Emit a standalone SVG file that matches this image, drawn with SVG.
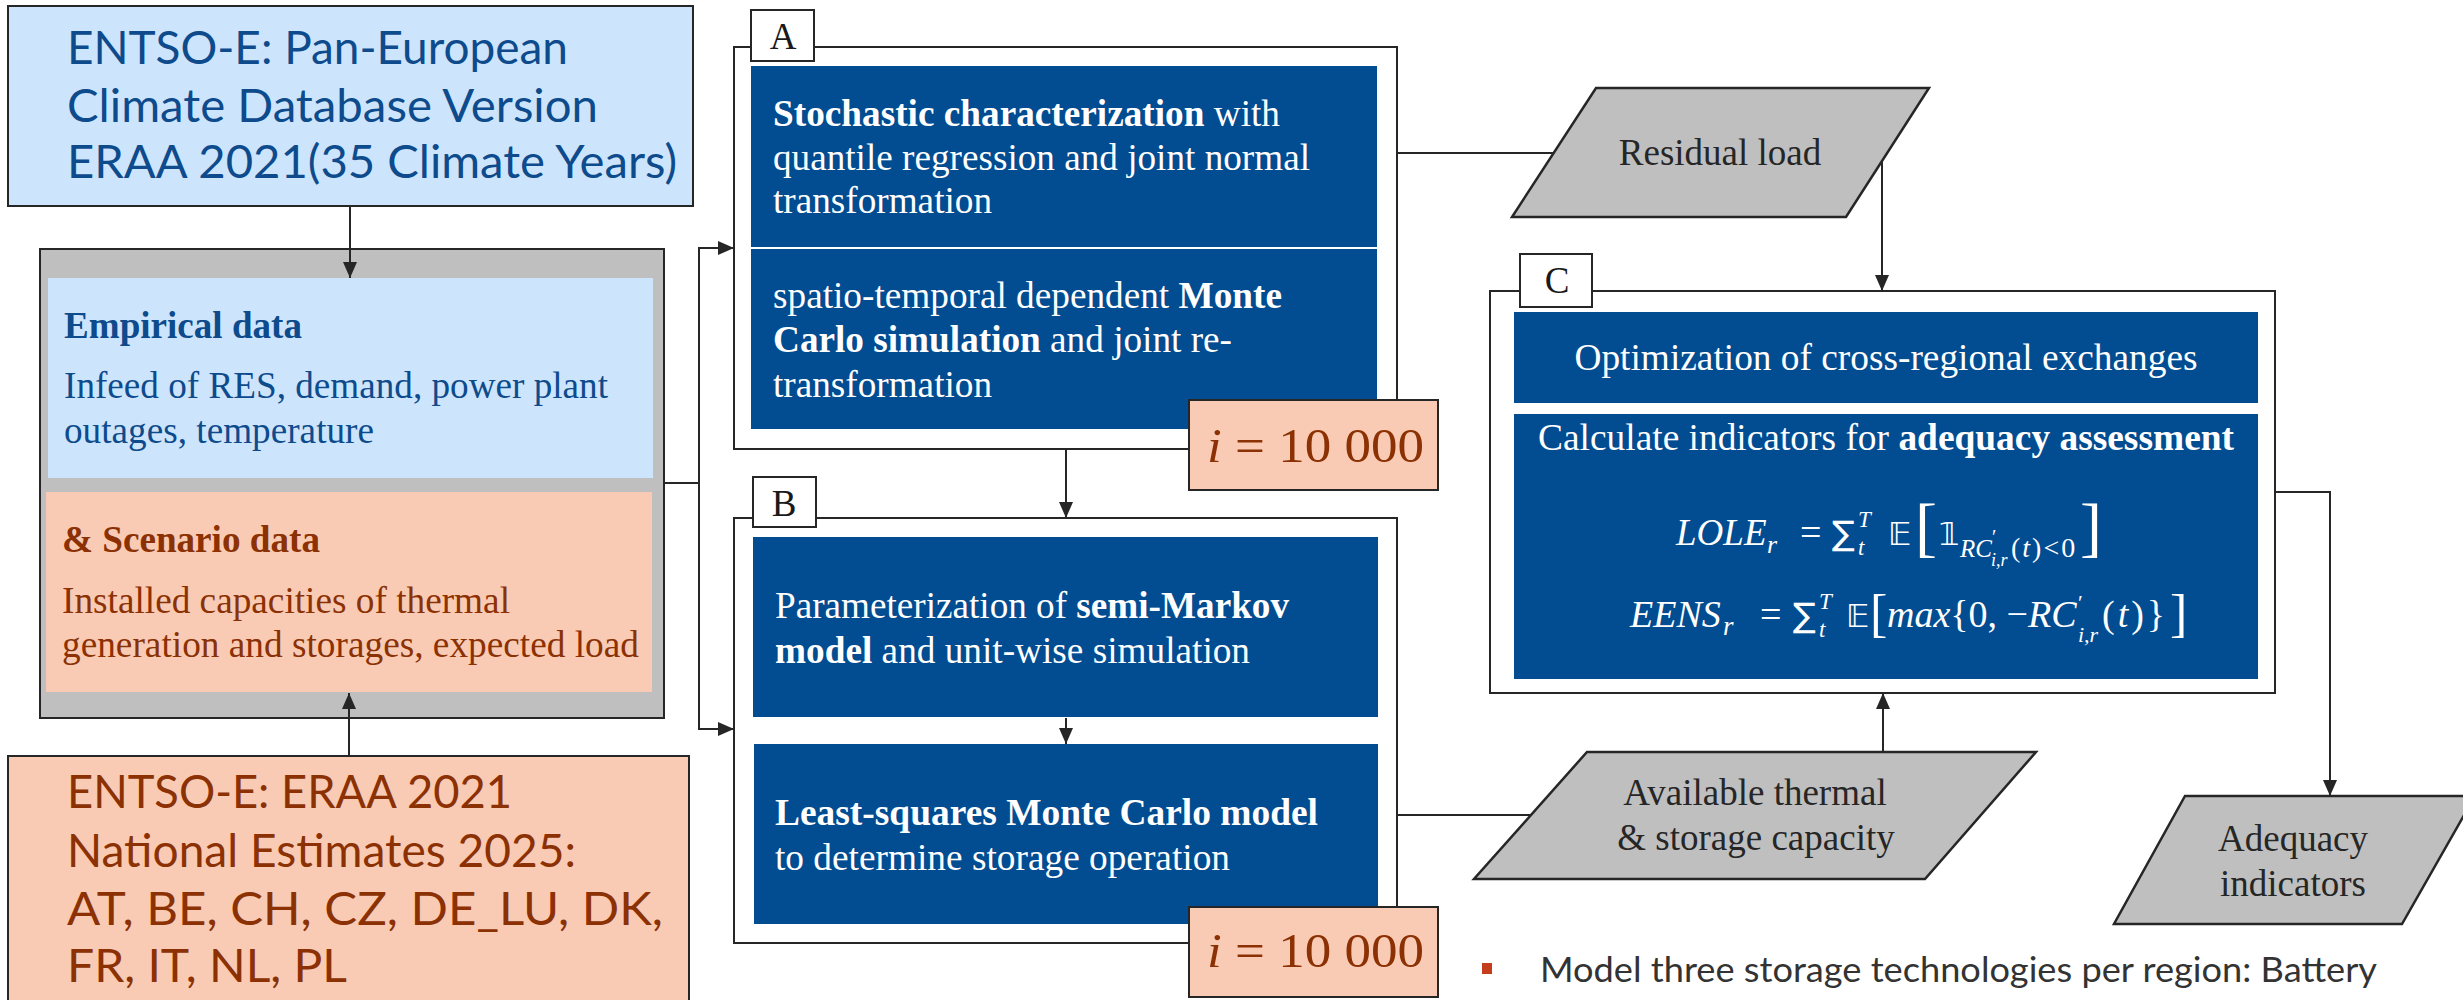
<svg xmlns="http://www.w3.org/2000/svg" width="2463" height="1000" viewBox="0 0 2463 1000">
<style>
.sans{font-family:Lato,"Open Sans","Liberation Sans",sans-serif}
.serif{font-family:"Liberation Serif","Times New Roman",serif}
.b{font-weight:bold}
.it{font-style:italic}
.frame{fill:#ffffff;stroke:#262626;stroke-width:2}
.blue{fill:#024c91}
.wt{fill:#ffffff;font-size:37px}
.lbl{fill:#ffffff;stroke:#262626;stroke-width:2}
.lbltx{fill:#1a1a1a;font-size:37px;text-anchor:middle}
.para{fill:#bfbfbf;stroke:#262626;stroke-width:2.5}
.ptx{fill:#262626;font-size:37px;text-anchor:middle}
.ibox{fill:#f9cbb5;stroke:#262626;stroke-width:2}
.itx{fill:#8b3103;font-size:49px}
.conn{fill:none;stroke:#262626;stroke-width:2}
.math{fill:#ffffff;font-family:"Liberation Serif","DejaVu Serif",serif;font-size:38px}
.ds{font-family:"DejaVu Sans","DejaVu Serif",sans-serif;font-size:32px;font-style:normal}
.sg{font-family:"DejaVu Sans",sans-serif;font-size:34px}
</style>
<defs>
<marker id="ah" markerWidth="16" markerHeight="14" refX="16" refY="7" orient="auto" markerUnits="userSpaceOnUse"><path d="M0,0 L16,7 L0,14 Z" fill="#262626"/></marker>
</defs>

<g id="climate-db">
<rect x="8" y="6" width="685" height="200" fill="#cde5fc" stroke="#262626" stroke-width="2"/>
<g class="sans" fill="#0d4b8d" font-size="47">
<text x="67" y="64" textLength="501" lengthAdjust="spacingAndGlyphs">ENTSO-E: Pan-European</text>
<text x="67" y="122" textLength="531" lengthAdjust="spacingAndGlyphs">Climate Database Version</text>
<text x="67" y="178" textLength="610" lengthAdjust="spacingAndGlyphs">ERAA 2021(35 Climate Years)</text>
</g>
</g>

<g id="input-data">
<rect x="40" y="249" width="624" height="469" fill="#bfbfbf" stroke="#262626" stroke-width="2"/>
<rect x="48" y="278" width="605" height="200" fill="#cde5fc"/>
<rect x="46" y="492" width="606" height="200" fill="#f9cbb5"/>
<g class="serif" font-size="37" fill="#0d4b8d">
<text x="64" y="338" class="b" textLength="238" lengthAdjust="spacingAndGlyphs">Empirical data</text>
<text x="64" y="398" textLength="544" lengthAdjust="spacingAndGlyphs">Infeed of RES, demand, power plant</text>
<text x="64" y="443" textLength="310" lengthAdjust="spacingAndGlyphs">outages, temperature</text>
</g>
<g class="serif" font-size="37" fill="#8b3103">
<text x="62" y="552" class="b" textLength="258" lengthAdjust="spacingAndGlyphs">&amp; Scenario data</text>
<text x="62" y="613" textLength="448" lengthAdjust="spacingAndGlyphs">Installed capacities of thermal</text>
<text x="62" y="657" textLength="577" lengthAdjust="spacingAndGlyphs">generation and storages, expected load</text>
</g>
</g>

<g id="national-estimates">
<rect x="8" y="756" width="681" height="260" fill="#f9cbb5" stroke="#262626" stroke-width="2"/>
<g class="sans" fill="#8b3103" font-size="46">
<text x="67" y="808" textLength="445" lengthAdjust="spacingAndGlyphs">ENTSO-E: ERAA 2021</text>
<text x="67" y="867" textLength="509" lengthAdjust="spacingAndGlyphs">National Estimates 2025:</text>
<text x="67" y="925" textLength="596" lengthAdjust="spacingAndGlyphs">AT, BE, CH, CZ, DE_LU, DK,</text>
<text x="67" y="982" textLength="280" lengthAdjust="spacingAndGlyphs">FR, IT, NL, PL</text>
</g>
</g>

<g id="block-A">
<rect class="frame" x="734" y="47" width="663" height="402"/>
<rect class="lbl" x="751" y="10" width="63" height="51"/>
<text class="serif lbltx" x="783" y="49">A</text>
<rect class="blue" x="751" y="66" width="626" height="181"/>
<rect class="blue" x="751" y="249" width="626" height="180"/>
<g class="serif wt">
<text x="773" y="126" textLength="507" lengthAdjust="spacingAndGlyphs"><tspan class="b">Stochastic characterization</tspan> with</text>
<text x="773" y="170" textLength="537" lengthAdjust="spacingAndGlyphs">quantile regression and joint normal</text>
<text x="773" y="213" textLength="219" lengthAdjust="spacingAndGlyphs">transformation</text>
<text x="773" y="308" textLength="509" lengthAdjust="spacingAndGlyphs">spatio-temporal dependent <tspan class="b">Monte</tspan></text>
<text x="773" y="352" textLength="459" lengthAdjust="spacingAndGlyphs"><tspan class="b">Carlo simulation</tspan> and joint re-</text>
<text x="773" y="397" textLength="219" lengthAdjust="spacingAndGlyphs">transformation</text>
</g>
<rect class="ibox" x="1189" y="400" width="249" height="90"/>
<text class="serif itx" x="1207" y="462" textLength="217" lengthAdjust="spacingAndGlyphs"><tspan class="it">i</tspan> = 10 000</text>
</g>

<g id="block-B">
<rect class="frame" x="734" y="518" width="663" height="425"/>
<rect class="lbl" x="753" y="477" width="63" height="50"/>
<text class="serif lbltx" x="784" y="516">B</text>
<rect class="blue" x="753" y="537" width="625" height="180"/>
<rect class="blue" x="754" y="744" width="624" height="180"/>
<g class="serif wt">
<text x="775" y="618" textLength="514" lengthAdjust="spacingAndGlyphs">Parameterization of <tspan class="b">semi-Markov</tspan></text>
<text x="775" y="663" textLength="475" lengthAdjust="spacingAndGlyphs"><tspan class="b">model</tspan> and unit-wise simulation</text>
<text x="775" y="825" textLength="543" lengthAdjust="spacingAndGlyphs" class="b">Least-squares Monte Carlo model</text>
<text x="775" y="870" textLength="455" lengthAdjust="spacingAndGlyphs">to determine storage operation</text>
</g>
<rect class="ibox" x="1189" y="907" width="249" height="90"/>
<text class="serif itx" x="1207" y="967" textLength="217" lengthAdjust="spacingAndGlyphs"><tspan class="it">i</tspan> = 10 000</text>
</g>

<g id="block-C">
<rect class="frame" x="1490" y="291" width="785" height="402"/>
<rect class="lbl" x="1520" y="254" width="72" height="53"/>
<text class="serif lbltx" x="1557" y="293">C</text>
<rect class="blue" x="1514" y="312" width="744" height="91"/>
<rect class="blue" x="1514" y="414" width="744" height="265"/>
<g class="serif wt" text-anchor="middle">
<text x="1886" y="370" textLength="623" lengthAdjust="spacingAndGlyphs">Optimization of cross-regional exchanges</text>
<text x="1886" y="450" textLength="696" lengthAdjust="spacingAndGlyphs">Calculate indicators for <tspan class="b">adequacy assessment</tspan></text>
</g>
<text class="math"><tspan x="1676" y="545" font-size="37" class="it">LOLE</tspan><tspan x="1767" y="553" font-size="26" class="it">r</tspan><tspan x="1800" y="545">=</tspan><tspan x="1832" y="545" class="sg">∑</tspan><tspan x="1858" y="527" font-size="23" class="it">T</tspan><tspan x="1858" y="555" font-size="23" class="it">t</tspan><tspan x="1888" y="545" class="ds">𝔼</tspan><tspan x="1915" y="549" font-size="66">[</tspan><tspan x="1939" y="545" class="ds">𝟙</tspan><tspan x="1960" y="557" font-size="25" class="it">RC</tspan><tspan x="1992" y="544" font-size="20">′</tspan><tspan x="1991" y="566" font-size="18" class="it">i,r</tspan><tspan x="2011" y="557" font-size="28" letter-spacing="2">(<tspan class="it">t</tspan>)&lt;0</tspan><tspan x="2080" y="549" font-size="66">]</tspan></text>
<text class="math"><tspan x="1630" y="627" class="it">EENS</tspan><tspan x="1723" y="635" font-size="27" class="it">r</tspan><tspan x="1760" y="627">=</tspan><tspan x="1793" y="627" class="sg">∑</tspan><tspan x="1819" y="609" font-size="23" class="it">T</tspan><tspan x="1819" y="637" font-size="23" class="it">t</tspan><tspan x="1846" y="627" class="ds">𝔼</tspan><tspan x="1870" y="631" font-size="52">[</tspan><tspan x="1887" y="627" class="it">max</tspan><tspan>{0, −</tspan><tspan class="it">RC</tspan><tspan x="2078" y="610" font-size="22">′</tspan><tspan x="2078" y="642" font-size="22" class="it">i,r</tspan><tspan x="2102" y="627" letter-spacing="3">(<tspan class="it">t</tspan>)}</tspan><tspan x="2170" y="631" font-size="52">]</tspan></text>
</g>

<g id="residual-load">
<polygon class="para" points="1596,88 1929,88 1846,217 1512,217"/>
<text class="serif ptx" x="1720" y="165">Residual load</text>
</g>

<g id="available-capacity">
<polygon class="para" points="1587,752 2036,752 1925,879 1474,879"/>
<text class="serif ptx" x="1755" y="805" font-size="36">Available thermal</text>
<text class="serif ptx" x="1756" y="850" font-size="36">&amp; storage capacity</text>
</g>

<g id="adequacy-indicators">
<polygon class="para" points="2185,796 2475,796 2402,924 2114,924"/>
<text class="serif ptx" x="2293" y="851">Adequacy</text>
<text class="serif ptx" x="2293" y="896">indicators</text>
</g>

<g id="note">
<rect x="1482" y="963" width="10" height="11" fill="#c43d1c"/>
<text class="sans" x="1540" y="982" font-size="34" fill="#333333" textLength="837" lengthAdjust="spacingAndGlyphs">Model three storage technologies per region: Battery</text>
</g>

<g id="connectors">
<path class="conn" d="M350,206 V278" marker-end="url(#ah)"/>
<path class="conn" d="M349,756 V693" marker-end="url(#ah)"/>
<path class="conn" d="M664,483 H699 V248 H734" marker-end="url(#ah)"/>
<path class="conn" d="M699,483 V729 H734" marker-end="url(#ah)"/>
<path class="conn" d="M1066,449 V518" marker-end="url(#ah)"/>
<path class="conn" d="M1066,718 V744" marker-end="url(#ah)"/>
<path class="conn" d="M1397,153 H1554"/>
<path class="conn" d="M1882,161 V291" marker-end="url(#ah)"/>
<path class="conn" d="M1397,815 H1531"/>
<path class="conn" d="M1883,752 V693" marker-end="url(#ah)"/>
<path class="conn" d="M2275,492 H2330 V796" marker-end="url(#ah)"/>
</g>
</svg>
